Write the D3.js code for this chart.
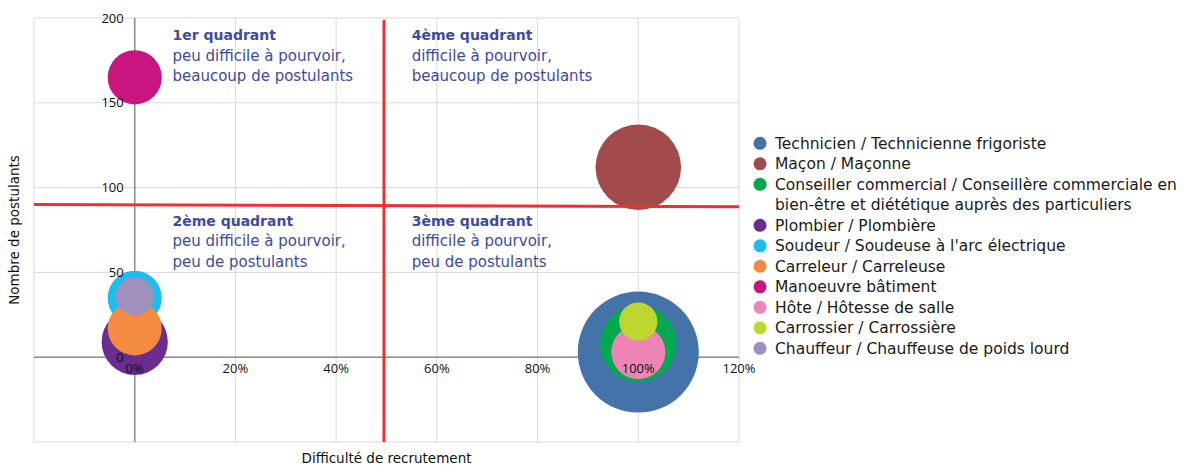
<!DOCTYPE html>
<html>
<head>
<meta charset="utf-8">
<script src="https://cdn.jsdelivr.net/npm/d3@7"></script>
<style>
  body { margin: 0; background: #fff; }
  text { font-family: "DejaVu Sans", sans-serif; }
  text.tick { font-family: "Open Sans", sans-serif; }
</style>
</head>
<body>
<script>
// series, in legend / drawing order
var jobs = [
    "Technicien / Technicienne frigoriste",
    "Maçon / Maçonne",
    "Conseiller commercial / Conseillère commerciale en bien-être et diététique auprès des particuliers",
    "Plombier / Plombière",
    "Soudeur / Soudeuse à l'arc électrique",
    "Carreleur / Carreleuse",
    "Manoeuvre bâtiment",
    "Hôte / Hôtesse de salle",
    "Carrossier / Carrossière",
    "Chauffeur / Chauffeuse de poids lourd"
];
var difficulty = [1, 1, 1, 0, 0, 0, 0, 1, 1, 0];
var applicants = [3, 112, 8, 9, 35, 17, 165, 3, 21, 36];
var bubbleSize = [10, 5, 4, 3, 2, 2, 2, 2, 1, 1];
var colors = ["#4473A9", "#A34B4B", "#00A84F", "#6A2C8F", "#18BFEF",
              "#F48B42", "#C8157F", "#EC84B5", "#BED630", "#A090BD"];

var xTicks = [-0.2, 0, 0.2, 0.4, 0.6, 0.8, 1, 1.2];
var yTicks = [-50, 0, 50, 100, 150, 200];

// red separators
var splitX = 0.495;
var splitY = [90, 88.7]; // left end, right end

var quadTitles = ["1er quadrant", "4ème quadrant", "2ème quadrant", "3ème quadrant"];
var quadLines = [
    ["peu difficile à pourvoir,", "beaucoup de postulants"],
    ["difficile à pourvoir,", "beaucoup de postulants"],
    ["peu difficile à pourvoir,", "peu de postulants"],
    ["difficile à pourvoir,", "peu de postulants"]
];
var quadX = [0.075, 0.55, 0.075, 0.55];
var quadY = [187, 187, 77.5, 77.5];

var W = 1190, H = 466;
var plot = { left: 34, right: 739, top: 18, bottom: 442 };

var svg = d3.select(document.body).append("svg")
    .attr("width", W).attr("height", H);

var x = d3.scaleLinear().domain([-0.2, 1.2]).range([plot.left, plot.right]);
var y = d3.scaleLinear().domain([-50, 200]).range([plot.bottom, plot.top]);
var r = d3.scaleSqrt().domain([0, 10]).range([0, 60.5]);

// grid
var grid = svg.append("g");
grid.selectAll(".vg").data(xTicks).enter().append("line")
    .attr("x1", function(d){ return x(d); }).attr("x2", function(d){ return x(d); })
    .attr("y1", plot.top).attr("y2", plot.bottom)
    .style("stroke", "#d9d9d9").style("stroke-width", 1);
grid.selectAll(".hg").data(yTicks).enter().append("line")
    .attr("y1", function(d){ return y(d); }).attr("y2", function(d){ return y(d); })
    .attr("x1", plot.left).attr("x2", plot.right)
    .style("stroke", "#d9d9d9").style("stroke-width", 1);

// zero axes
svg.append("line")
    .attr("x1", x(0)).attr("x2", x(0)).attr("y1", plot.top).attr("y2", plot.bottom)
    .style("stroke", "#8c8c8c").style("stroke-width", 1.5);
svg.append("line")
    .attr("x1", plot.left).attr("x2", plot.right).attr("y1", y(0)).attr("y2", y(0))
    .style("stroke", "#8c8c8c").style("stroke-width", 1.5);

// bubbles
svg.append("g").selectAll("circle").data(jobs).enter().append("circle")
    .attr("cx", function(d, i){ return x(difficulty[i]); })
    .attr("cy", function(d, i){ return y(applicants[i]); })
    .attr("r", function(d, i){ return r(bubbleSize[i]); })
    .style("fill", function(d, i){ return colors[i]; });

// tick labels
svg.append("g").selectAll("text").data(yTicks.filter(function(d){ return d >= 0; }))
    .enter().append("text").attr("class", "tick")
    .attr("x", x(0) - 11).attr("y", function(d){ return y(d); })
    .attr("dy", "0.35em").attr("text-anchor", "end")
    .style("font-size", "13px").style("fill", "#111")
    .text(function(d){ return d; });
svg.append("g").selectAll("text").data(xTicks.filter(function(d){ return d >= 0; }))
    .enter().append("text").attr("class", "tick")
    .attr("x", function(d){ return x(d); }).attr("y", y(0) + 16)
    .attr("text-anchor", "middle")
    .style("font-size", "13px").style("fill", "#111")
    .text(function(d){ return d3.format(".0%")(d); });

// red quadrant separators
svg.append("line")
    .attr("x1", x(splitX)).attr("x2", x(splitX)).attr("y1", plot.top + 2).attr("y2", plot.bottom)
    .style("stroke", "#EE3030").style("stroke-width", 3);
svg.append("line")
    .attr("x1", plot.left).attr("x2", plot.right)
    .attr("y1", y(splitY[0])).attr("y2", y(splitY[1]))
    .style("stroke", "#EE3030").style("stroke-width", 3);

// quadrant notes
quadTitles.forEach(function(t, i){
    var g = svg.append("text")
        .attr("x", x(quadX[i])).attr("y", y(quadY[i]))
        .style("font-size", "15px").style("fill", "#3F4A9E");
    g.append("tspan").attr("x", x(quadX[i])).style("font-weight", "bold")
        .style("font-size", "14px").text(t);
    quadLines[i].forEach(function(l){
        g.append("tspan").attr("x", x(quadX[i])).attr("dy", 20.5).text(l);
    });
});

// axis titles
svg.append("text")
    .attr("x", (plot.left + plot.right) / 2).attr("y", 463)
    .attr("text-anchor", "middle").style("font-size", "13.5px").style("fill", "#111")
    .text("Difficulté de recrutement");
svg.append("text")
    .attr("transform", "translate(19," + ((plot.top + plot.bottom) / 2) + ") rotate(-90)")
    .attr("text-anchor", "middle").style("font-size", "13.5px").style("fill", "#111")
    .text("Nombre de postulants");

// legend
var legend = svg.append("g");
var rowY = 143.3, rowH = 20.5, maxW = 425;
jobs.forEach(function(name, i){
    legend.append("circle")
        .attr("cx", 760).attr("cy", rowY).attr("r", 6.5)
        .style("fill", colors[i]);
    var words = name.split(" "), line = [];
    var t = legend.append("text")
        .attr("x", 775).attr("y", rowY).attr("dy", "0.35em")
        .style("font-size", "15.5px").style("fill", "#1a1a1a");
    var span = t.append("tspan").attr("x", 775);
    words.forEach(function(w){
        line.push(w);
        span.text(line.join(" "));
        if (span.node().getComputedTextLength() > maxW && line.length > 1) {
            line.pop();
            span.text(line.join(" "));
            line = [w];
            rowY += rowH;
            span = t.append("tspan").attr("x", 775).attr("dy", rowH).text(w);
        }
    });
    rowY += rowH;
});
</script>
</body>
</html>
